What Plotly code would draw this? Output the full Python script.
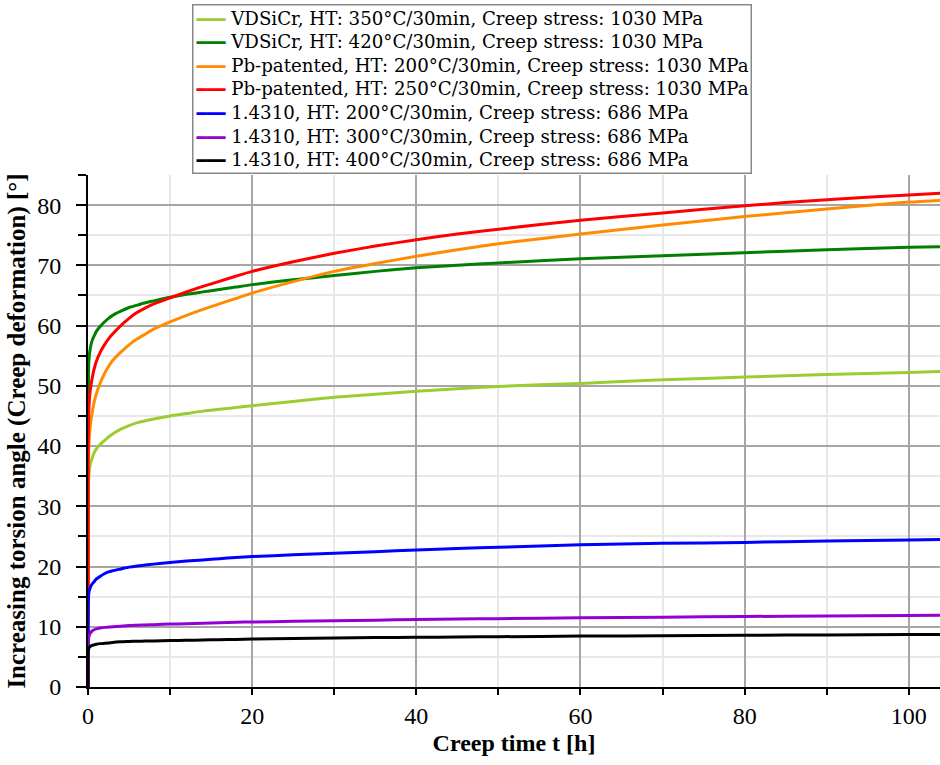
import plotly.graph_objects as go

t_hours = [0, 0.02, 0.1, 0.25, 0.5, 0.75, 1, 1.5, 2, 2.5, 3, 4, 5, 6, 7, 8, 10, 12, 14, 16,
           18, 20, 25, 30, 35, 40, 45, 50, 60, 70, 80, 90, 100, 104]

vdsicr_350 = [0, 30, 35, 36.8, 38.0, 38.9, 39.5, 40.3, 40.9, 41.5, 42.0, 42.8, 43.4, 43.9,
              44.2, 44.5, 45.0, 45.4, 45.8, 46.1, 46.4, 46.7, 47.4, 48.1, 48.6, 49.1, 49.5,
              49.9, 50.4, 51.0, 51.45, 51.9, 52.2, 52.4]
vdsicr_420 = [0, 46, 54, 56, 57.5, 58.3, 59, 59.9, 60.6, 61.2, 61.7, 62.4, 63.0, 63.4,
              63.8, 64.1, 64.7, 65.2, 65.6, 66.0, 66.4, 66.8, 67.6, 68.3, 69.0, 69.6, 70.0,
              70.4, 71.1, 71.6, 72.1, 72.6, 73.0, 73.1]
pb_200 = [0, 32, 40, 43, 45.5, 47.3, 48.6, 50.5, 52.0, 53.2, 54.2, 55.6, 56.8, 57.8,
          58.6, 59.4, 60.6, 61.7, 62.7, 63.6, 64.5, 65.4, 67.3, 69.0, 70.3, 71.5, 72.6,
          73.6, 75.2, 76.7, 78.1, 79.35, 80.5, 80.8]
pb_250 = [0, 38, 46, 49, 51.2, 52.8, 54.0, 55.6, 56.8, 57.8, 58.6, 60.0, 61.2, 62.2,
          62.95, 63.6, 64.6, 65.6, 66.5, 67.35, 68.2, 69.0, 70.6, 72.0, 73.2, 74.25, 75.2,
          76.0, 77.5, 78.7, 79.9, 80.9, 81.7, 82.0]
ss_200 = [0, 13, 15.6, 16.4, 17.1, 17.5, 17.9, 18.4, 18.8, 19.1, 19.3, 19.6, 19.9, 20.1,
          20.25, 20.4, 20.65, 20.9, 21.1, 21.3, 21.5, 21.65, 21.95, 22.2, 22.45, 22.75, 23.0,
          23.2, 23.6, 23.85, 24.0, 24.25, 24.4, 24.5]
ss_300 = [0, 7.5, 8.3, 8.9, 9.3, 9.5, 9.65, 9.8, 9.9, 9.95, 10.0, 10.1, 10.2, 10.25,
          10.3, 10.35, 10.45, 10.5, 10.6, 10.65, 10.75, 10.8, 10.9, 11.0, 11.1, 11.2, 11.3,
          11.35, 11.5, 11.6, 11.7, 11.8, 11.85, 11.9]
ss_400 = [0, 5.8, 6.4, 6.7, 6.9, 7.0, 7.1, 7.2, 7.25, 7.3, 7.4, 7.5, 7.55, 7.6,
          7.62, 7.65, 7.7, 7.75, 7.8, 7.85, 7.9, 7.97, 8.05, 8.15, 8.22, 8.25, 8.3,
          8.35, 8.45, 8.52, 8.6, 8.65, 8.7, 8.72]

series_names = [
    "VDSiCr, HT: 350°C/30min, Creep stress: 1030 MPa",
    "VDSiCr, HT: 420°C/30min, Creep stress: 1030 MPa",
    "Pb-patented, HT: 200°C/30min, Creep stress: 1030 MPa",
    "Pb-patented, HT: 250°C/30min, Creep stress: 1030 MPa",
    "1.4310, HT: 200°C/30min, Creep stress: 686 MPa",
    "1.4310, HT: 300°C/30min, Creep stress: 686 MPa",
    "1.4310, HT: 400°C/30min, Creep stress: 686 MPa",
]
series_values = [vdsicr_350, vdsicr_420, pb_200, pb_250, ss_200, ss_300, ss_400]
series_colors = ["#9acd32", "#008000", "#ff8c00", "#ff0000", "#0000ff", "#9400d3", "#000000"]

fig = go.Figure()
for name, vals, col in zip(series_names, series_values, series_colors):
    fig.add_trace(go.Scatter(x=t_hours, y=vals, mode="lines", name=name, showlegend=False,
                             line=dict(color=col, width=3, shape="spline", smoothing=0.6)))

# legend box (built from the series names / colours, tight line spacing like the original)
legend_text = "<br>".join(
    f"<span style='color:{col};font-family:DejaVu Sans;font-size:16px'>━━━</span> {name}"
    for name, col in zip(series_names, series_colors)
)
fig.add_annotation(
    text=legend_text, xref="paper", yref="paper",
    x=(192 - 88) / 852, y=(687 - 4) / 512, xanchor="left", yanchor="top",
    align="left", showarrow=False,
    font=dict(family="DejaVu Serif", size=18.2, color="#000"),
    bordercolor="#888888", borderwidth=1.5, borderpad=2, bgcolor="white",
)

tick_font = dict(family="Liberation Serif", size=24, color="#000")

fig.update_layout(
    width=940, height=765,
    margin=dict(l=88, r=0, t=175, b=78),
    paper_bgcolor="white", plot_bgcolor="white",
    showlegend=False,
    xaxis=dict(range=[0, 103.8], dtick=20, tick0=0, showgrid=True, gridcolor="#a6a6a6",
               gridwidth=1.5, zeroline=False, showline=True, linecolor="black", linewidth=2,
               ticks="outside", ticklen=6, tickwidth=1.5, tickcolor="black", tickfont=tick_font,
               minor=dict(dtick=10, showgrid=True, gridcolor="#e8e8e8", gridwidth=1.5,
                          ticks="outside", ticklen=6, tickwidth=1.5, tickcolor="black"),
               title=dict(text="<b>Creep time t [h]</b>",
                          font=dict(family="Liberation Serif", size=24, color="#000"),
                          standoff=6)),
    yaxis=dict(range=[0, 85], dtick=10, tick0=0, showgrid=True, gridcolor="#a6a6a6",
               gridwidth=1.5, zeroline=False, showline=True, linecolor="black", linewidth=2,
               ticks="outside", ticklen=10, tickwidth=1.5, tickcolor="black", tickfont=tick_font,
               ticklabelstandoff=10,
               minor=dict(dtick=5, showgrid=True, gridcolor="#e8e8e8", gridwidth=1.5,
                          ticks="outside", ticklen=8, tickwidth=1.5, tickcolor="black"),
               title=dict(text="<b>Increasing torsion angle (Creep deformation) [°]</b>",
                          font=dict(family="Liberation Serif", size=25, color="#000"),
                          standoff=4)),
)

fig.write_html("out.html")
